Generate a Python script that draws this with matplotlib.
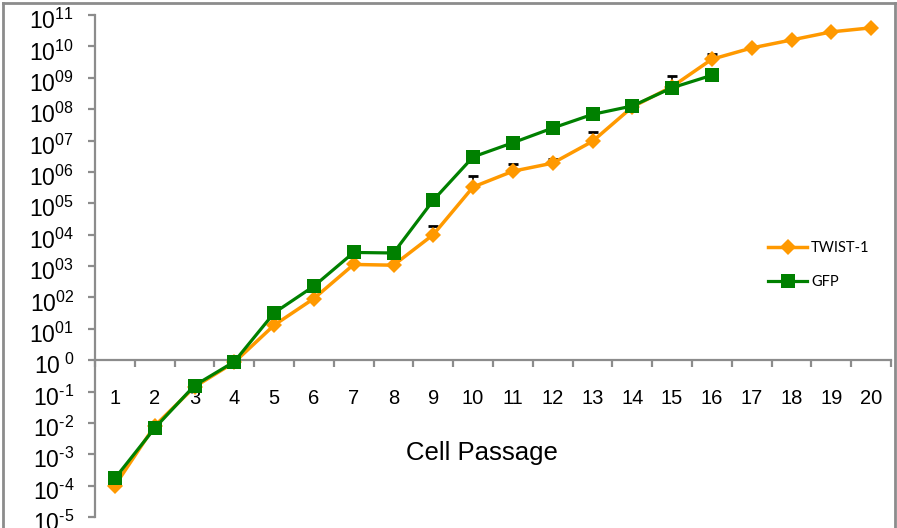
import matplotlib
matplotlib.use("Agg")
import matplotlib.pyplot as plt
import matplotlib.transforms as mtransforms
import numpy as np
from matplotlib.lines import Line2D
from matplotlib.ticker import FixedLocator, FuncFormatter, NullFormatter

plt.rcParams["font.family"] = ["Liberation Sans", "DejaVu Sans"]
plt.rcParams["mathtext.fontset"] = "custom"
plt.rcParams["mathtext.rm"] = "Liberation Sans"
plt.rcParams["mathtext.it"] = "Liberation Sans"

# cumulative cell numbers per passage
passage = list(range(1, 21))
twist1 = [1.0e-4, 8.0e-3, 0.14, 0.85, 13, 92, 1120, 1060, 1.0e4, 3.3e5,
          1.05e6, 1.9e6, 9.4e6, 1.17e8, 5.2e8, 3.9e9, 8.9e9, 1.6e10, 2.9e10, 3.9e10]
twist1_upper = [None, None, None, None, None, None, None, None, 1.9e4, 7.4e5,
                1.8e6, 2.5e6, 1.8e7, None, 1.1e9, 5.6e9, None, None, None, None]
gfp_passage = list(range(1, 17))
gfp = [1.7e-4, 6.8e-3, 0.155, 0.89, 32, 228, 2700, 2600, 1.25e5, 3.0e6,
       8.5e6, 2.5e7, 6.8e7, 1.26e8, 4.8e8, 1.2e9]

ORANGE = "#FF9900"
GREEN = "#008000"
GREY = "#8C8C8C"
HYPHEN = "\u2010"

fig = plt.figure(figsize=(8.97, 5.28), dpi=100)
ax = fig.add_axes([95 / 897, 11 / 528, 796 / 897, 502 / 528])

# upper-only error bars on TWIST-1
err_x = [p for p, u in zip(passage, twist1_upper) if u is not None]
err_y = [v for v, u in zip(twist1, twist1_upper) if u is not None]
err_up = [u - v for v, u in zip(twist1, twist1_upper) if u is not None]
ax.errorbar(err_x, err_y, yerr=[np.zeros(len(err_y)), err_up], fmt="none",
            ecolor="black", elinewidth=1.2, capsize=3.5, capthick=2, zorder=2)

ax.plot(passage, twist1, color=ORANGE, lw=2.5, marker="D", ms=8.5,
        markeredgewidth=0, label="TWIST-1", zorder=3)
ax.plot(gfp_passage, gfp, color=GREEN, lw=2.3, marker="s", ms=10,
        markeredgewidth=0, label="GFP", zorder=4)

ax.set_yscale("log")
ax.set_ylim(1e-5, 1e11)
ax.set_xlim(0.5, 20.5)

for side in ("top", "right"):
    ax.spines[side].set_visible(False)
ax.spines["bottom"].set_position(("data", 1))
ax.spines["left"].set_color(GREY)
ax.spines["bottom"].set_color(GREY)
ax.spines["left"].set_linewidth(1.6)
ax.spines["bottom"].set_linewidth(1.6)


def exp_label(v, pos):
    e = int(round(np.log10(v)))
    if e == 0:
        return r"$10^{\ 0}$"
    if e < 0:
        return "$10^{" + HYPHEN + str(-e) + "}$"
    return "$10^{%02d}$" % e


ax.yaxis.set_major_locator(FixedLocator([10.0 ** e for e in range(-5, 12)]))
ax.yaxis.set_minor_locator(FixedLocator([]))
ax.yaxis.set_major_formatter(FuncFormatter(exp_label))
ax.tick_params(axis="y", which="major", direction="out", length=5, width=1.6,
               color=GREY, labelsize=16.5, pad=10)

# tick marks sit between passages, labels under each passage
ax.xaxis.set_major_locator(FixedLocator(np.arange(0.5, 21, 1)))
ax.xaxis.set_major_formatter(NullFormatter())
ax.xaxis.set_minor_locator(FixedLocator(passage))
ax.xaxis.set_minor_formatter(FuncFormatter(lambda v, p: f"{int(v)}"))
ax.tick_params(axis="x", which="major", direction="out", length=5, width=1.6,
               color=GREY)
ax.tick_params(axis="x", which="minor", length=0, labelsize=14.5, pad=21)

# nudge the exponent labels down a little
shift = mtransforms.ScaledTranslation(0, -4 / 100, fig.dpi_scale_trans)
for lbl in ax.yaxis.get_majorticklabels():
    lbl.set_transform(lbl.get_transform() + shift)

ax.text((482 - 95) / 796, (517 - 453) / 502, "Cell Passage", transform=ax.transAxes,
        ha="center", va="center", fontsize=18.5)

ax.legend(loc="center left", bbox_to_anchor=((768 - 95) / 796, (517 - 265) / 502),
          frameon=False, borderaxespad=0, borderpad=0, handlelength=2.7,
          handletextpad=0.25, labelspacing=1.35,
          prop={"family": "Lato", "size": 10.5})

# grey border round the figure
for xs, ys in (([3, 3], [0, 525]), ([3, 895], [525, 525]), ([895, 895], [525, 0])):
    fig.add_artist(Line2D([x / 897 for x in xs], [y / 528 for y in ys],
                          color=GREY, lw=2, transform=fig.transFigure))

fig.savefig("out.png", dpi=100)
